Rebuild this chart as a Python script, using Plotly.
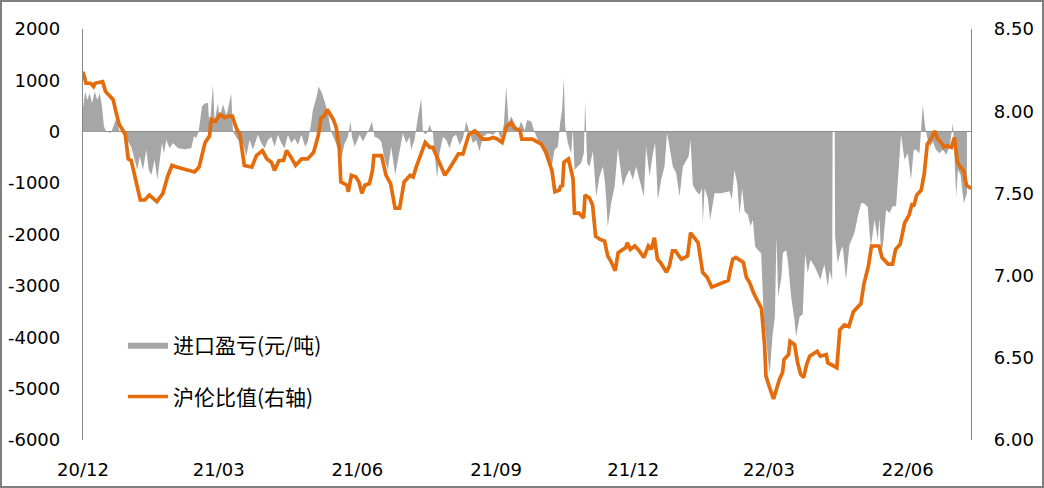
import pandas as pd
import plotly.graph_objects as go

# ---------------- data ----------------
start_date = "2020-12-01"

# Import profit/loss (yuan/ton): day offsets since start_date and values
profit_day = [0, 1.5, 2.9, 4.4, 6.0, 7.8, 9.5, 11.1, 12.6, 13.9, 15.4, 18.6, 22.1, 24.3, 27.7,
              29.8, 32.0, 34.3, 36.0, 37.6, 39.8, 42.0, 43.6, 45.3, 47.5, 49.3, 50.9, 52.4, 53.7,
              55.2, 57.5, 59.7, 63.0, 67.4, 71.8, 73.6, 75.1, 76.7, 78.9, 80.7, 82.9, 84.0, 85.1,
              86.2, 87.3, 89.5, 90.6, 92.8, 95.0, 96.1, 98.3, 99.5, 102.8, 106.1, 108.3, 110.5,
              112.7, 116.0, 118.2, 120.5, 122.7, 124.9, 127.1, 129.3, 131.5, 133.7, 135.9, 138.1,
              140.4, 142.6, 144.8, 147.4, 149.2, 151.0, 152.5, 154.7, 156.3, 158.5, 160.3, 162.5,
              164.6, 166.9, 169.1, 171.3, 173.5, 175.7, 177.5, 178.4, 180.2, 183.5, 185.7, 187.9,
              190.1, 191.6, 193.4, 195.6, 197.8, 200.1, 202.2, 204.4, 207.1, 208.9, 211.1, 212.2,
              214.4, 216.6, 217.7, 219.9, 221.7, 223.3, 224.3, 225.5, 227.6, 229.9, 232.1, 233.6,
              234.9, 236.5, 238.7, 240.9, 243.2, 245.3, 247.5, 249.8, 252.0, 254.2, 256.4, 258.6,
              260.8, 263.0, 265.2, 268.6, 271.9, 275.2, 277.4, 279.2, 280.7, 282.3, 284.0, 286.3,
              288.4, 290.6, 292.9, 294.6, 297.3, 299.5, 301.7, 305.0, 308.3, 310.5, 312.8, 315.0,
              316.5, 317.8, 318.9, 319.8, 321.6, 323.8, 324.9, 326.0, 328.2, 330.4, 332.2, 333.1,
              334.4, 336.0, 338.2, 340.4, 342.6, 344.8, 346.3, 348.1, 350.3, 352.6, 354.8, 356.5,
              358.1, 360.3, 362.5, 364.7, 366.9, 369.1, 372.0, 373.5, 375.8, 378.0, 379.5, 381.3,
              383.5, 385.7, 387.4, 389.0, 391.2, 393.4, 395.7, 397.9, 400.1, 401.7, 403.0, 404.5,
              406.7, 409.0, 410.5, 411.1, 412.3, 414.4, 416.0, 417.8, 418.9, 423.3, 428.8, 430.4,
              432.1, 433.9, 435.5, 437.2, 438.8, 441.0, 442.8, 444.3, 445.8, 447.6, 449.8, 451.6,
              453.1, 454.4, 455.5, 457.3, 458.9, 460.0, 461.1, 463.3, 464.2, 466.4, 467.5, 469.7,
              471.9, 473.0, 475.3, 477.4, 479.0, 480.7, 482.5, 485.2, 487.4, 489.2, 490.7, 491.8,
              494.0, 495.3, 496.9, 497.2, 498.6, 498.9, 500.6, 502.4, 503.9, 506.1, 508.4, 509.9,
              511.7, 513.9, 516.1, 517.9, 520.5, 521.7, 522.7, 525.0, 527.2, 528.3, 529.3, 530.5,
              532.7, 534.9, 537.1, 539.3, 541.6, 542.6, 544.9, 547.1, 549.2, 551.0, 552.6, 554.8,
              557.0, 558.5, 560.3, 562.1, 563.6, 565.8, 568.1, 570.3, 572.6, 574.8, 577.0, 578.1,
              579.2, 580.3, 582.1, 584.2, 586.3, 587.9]
profit_val = [460, 785, 620, 750, 560, 785, 620, 750, 490, 100, 0, -20, 265, 0, 0,
              -190, -290, -580, -740, -480, -740, -350, -740, -840, -545, -935, -545, -220, -420,
              -160, -320, -220, -320, -340, -320, -90, -120, 0, 490, 550, 560, 30, 490,
              915, 200, 560, 250, 540, 320, 430, 750, 0, -160, -220, -480, -160,
              -350, -60, -220, -320, -160, -100, -290, -60, -220, -320, -60, -220,
              -130, -260, -60, -290, -190, 100, 430, 650, 880, 750, 590, 365,
              0, -160, -320, -510, -230, -100, 200, -100, -290, -60, -190, -60,
              70, 200, -100, -120, -190, -545, -740, -290, -840, -545, -160, -30,
              -220, -100, -350, -160, 200, 490, 650, 0, -60, 130, -30, -545,
              -900, -420, -100, -160, -320, -100, -60, -260, -130, 200, 0, -220,
              -160, -380, -100, -30, -60, 30, -160, 160, 880, 160, 300, 160,
              30, 200, 30, 230, 200, 0, -160, -290, -545, -740, -350, -290,
              170, 430, 1045, 100, -220, -420, 70, -740, -675, -610, -420, 590,
              -610, -675, -380, -1260, -870, -675, -1000, -1845, -1390, -1065, -320, -675,
              -1065, -870, -740, -935, -675, -935, -1260, -290, -870, -420, -220, -1325,
              -935, -675, -30, -290, -675, -800, -1260, -675, -550, -480, -160, -1030,
              -1160, -1225, -1100, -1780, -1100, -1290, -1715, -1420, -1195, -1195, -1160, -1325,
              -740, -1000, -1615, -1100, -1550, -1615, -1840, -1715, -2235, -2300, -2365, -3660,
              -4000, -4450, -4700, -3990, -3600, -2040, -3210, -2820, -2360, -2300, -2500, -3210,
              -3660, -3990, -3600, -3550, -2365, -2750, -2490, -2620, -2750, -2880, -2680, -2590,
              -3010, -2700, -2900, 0, 0, -2040, -2560, -2330, -2230, -2880, -2200,
              -2100, -1970, -1650, -1390, -1390, -1460, -1970, -2230, -1715, -2100, -1680, -2365,
              -2230, -1520, -1580, -1450, -1450, -545, -60, -545, -420, -935, -350, -350,
              -420, 525, 100, -160, -290, -190, -350, -420, -350, -450, -290, 170,
              -545, -1260, -740, -840, -1390, -1195]

# SHFE/LME ratio (right axis): day offsets since start_date and values
ratio_day = [0, 2, 5, 7, 8, 13, 15, 20, 22, 24, 28, 30, 32, 35, 38, 41, 44, 49, 53, 56, 59, 62,
             74, 77, 81, 84, 85, 88, 91, 94, 97, 99, 102, 104, 107, 112, 115, 119, 122, 125, 127,
             130, 133, 135, 138, 141, 145, 149, 153, 156, 158, 160, 162, 166, 168, 170, 171, 175,
             176, 178, 181, 183, 185, 187, 190, 192, 193, 197, 198, 201, 204, 207, 210, 213, 217,
             219, 221, 227, 230, 232, 235, 240, 243, 249, 252, 256, 260, 265, 269, 272, 275, 278,
             281, 284, 286, 290, 291, 294, 298, 304, 307, 311, 313, 316, 317, 318, 319, 322, 324,
             325, 326, 329, 332, 333, 336, 338, 340, 343, 346, 348, 350, 353, 355, 357, 360, 361,
             363, 366, 369, 372, 375, 377, 379, 381, 383, 387, 389, 391, 393, 396, 397, 399, 401,
             403, 406, 408, 411, 414, 417, 428, 429, 431, 433, 438, 440, 442, 445, 448, 450, 452,
             453, 455, 458, 460, 462, 464, 465, 468, 469, 472, 474, 476, 478, 480, 482, 487, 489,
             493, 494, 500, 502, 505, 508, 511, 516, 518, 521, 523, 528, 530, 534, 537, 539, 542,
             545, 548, 550, 551, 553, 556, 558, 560, 563, 565, 567, 570, 571, 573, 576, 578, 580,
             582, 584, 586, 589]
ratio_val = [8.24, 8.17, 8.17, 8.15, 8.17, 8.18, 8.12, 8.07, 7.99, 7.92, 7.86, 7.71, 7.70, 7.58,
             7.46, 7.46, 7.49, 7.45, 7.50, 7.60, 7.67, 7.66, 7.63, 7.66, 7.81, 7.85, 7.95, 7.94,
             7.98, 7.96, 7.97, 7.97, 7.89, 7.86, 7.67, 7.66, 7.73, 7.76, 7.71, 7.69, 7.64, 7.70,
             7.70, 7.76, 7.72, 7.67, 7.71, 7.71, 7.75, 7.85, 7.96, 7.97, 8.01, 7.95, 7.90, 7.77,
             7.57, 7.55, 7.51, 7.61, 7.60, 7.57, 7.50, 7.55, 7.56, 7.64, 7.73, 7.73, 7.73, 7.61,
             7.56, 7.41, 7.41, 7.57, 7.61, 7.60, 7.66, 7.81, 7.78, 7.78, 7.72, 7.61, 7.65, 7.74,
             7.74, 7.86, 7.88, 7.83, 7.83, 7.84, 7.83, 7.81, 7.91, 7.93, 7.90, 7.88, 7.83, 7.83,
             7.83, 7.80, 7.75, 7.64, 7.51, 7.52, 7.55, 7.54, 7.69, 7.71, 7.64, 7.59, 7.38, 7.38,
             7.35, 7.49, 7.47, 7.43, 7.24, 7.22, 7.21, 7.12, 7.09, 7.03, 7.14, 7.15, 7.17, 7.20,
             7.16, 7.18, 7.15, 7.11, 7.18, 7.16, 7.23, 7.10, 7.08, 7.02, 7.06, 7.15, 7.15, 7.11,
             7.10, 7.11, 7.12, 7.26, 7.22, 7.20, 7.02, 6.99, 6.93, 6.97, 7.02, 7.10, 7.11, 7.08,
             6.99, 6.96, 6.89, 6.83, 6.80, 6.59, 6.39, 6.33, 6.25, 6.31, 6.37, 6.41, 6.49, 6.52,
             6.60, 6.58, 6.47, 6.40, 6.38, 6.46, 6.51, 6.54, 6.51, 6.52, 6.47, 6.44, 6.67, 6.70,
             6.69, 6.78, 6.83, 6.95, 7.06, 7.18, 7.18, 7.11, 7.07, 7.07, 7.16, 7.19, 7.32, 7.37,
             7.44, 7.42, 7.49, 7.52, 7.62, 7.80, 7.84, 7.88, 7.83, 7.80, 7.78, 7.79, 7.78, 7.84,
             7.69, 7.66, 7.64, 7.55, 7.53]

x_end_day = 589
tick_dates = ["2020-12-01", "2021-03-01", "2021-06-01", "2021-09-01", "2021-12-01",
              "2022-03-01", "2022-06-01"]
left_ticks = [2000, 1000, 0, -1000, -2000, -3000, -4000, -5000, -6000]
right_ticks = [6.0, 6.5, 7.0, 7.5, 8.0, 8.5]

name_profit = "进口盈亏(元/吨)"
name_ratio = "沪伦比值(右轴)"

# ---------------- figure ----------------
t0 = pd.Timestamp(start_date)
profit_x = t0 + pd.to_timedelta(profit_day, unit="D")
ratio_x = t0 + pd.to_timedelta(ratio_day, unit="D")
x_end = t0 + pd.Timedelta(days=x_end_day)

GRAY = "#A6A6A6"
ORANGE = "#E46C0A"
AXIS = "#868686"
NUMFONT = dict(family="DejaVu Sans", size=18, color="#000000")
CJKFONT = dict(family="Noto Sans CJK SC", size=21, color="#000000")

fig = go.Figure()
fig.add_trace(go.Scatter(
    x=profit_x, y=profit_val, name=name_profit, mode="lines",
    line=dict(width=0, color=GRAY), fill="tozeroy", fillcolor=GRAY,
    legend="legend", yaxis="y",
))
fig.add_trace(go.Scatter(
    x=ratio_x, y=ratio_val, name=name_ratio, mode="lines",
    line=dict(width=3.7, color=ORANGE), yaxis="y2", legend="legend2",
))

fig.update_layout(
    width=1044, height=488,
    margin=dict(l=83, r=73, t=29, b=48, autoexpand=False),
    paper_bgcolor="white", plot_bgcolor="white",
    font=NUMFONT,
    xaxis=dict(
        type="date", range=[t0, x_end], tickvals=pd.to_datetime(tick_dates),
        tickformat="%y/%m", showgrid=False, zeroline=False, showline=False,
        ticks="", tickfont=NUMFONT, ticklabelstandoff=17, automargin=False,
    ),
    yaxis=dict(
        range=[-6000, 2000], tickvals=left_ticks, ticktext=[str(v) for v in left_ticks],
        showgrid=False, zeroline=True, zerolinecolor=AXIS, zerolinewidth=1.3,
        showline=True, linecolor=AXIS, linewidth=1.3, ticks="",
        tickfont=NUMFONT, ticklabelstandoff=18, automargin=False,
    ),
    yaxis2=dict(
        range=[6.0, 8.5], tickvals=right_ticks, tickformat=".2f", overlaying="y",
        side="right", showgrid=False, zeroline=False, showline=True,
        linecolor=AXIS, linewidth=1.3, ticks="", tickfont=NUMFONT, ticklabelstandoff=18,
        automargin=False,
    ),
    legend=dict(x=0.045, y=0.231, xanchor="left", yanchor="middle",
                font=CJKFONT, bgcolor="rgba(0,0,0,0)", itemwidth=40),
    legend2=dict(x=0.045, y=0.105, xanchor="left", yanchor="middle",
                 font=CJKFONT, bgcolor="rgba(0,0,0,0)", itemwidth=40),
    showlegend=True,
    shapes=[dict(type="rect", xref="paper", yref="paper",
                 x0=-82 / 888, x1=(1043 - 83) / 888, y0=(440 - 487) / 411, y1=(440 - 1) / 411,
                 line=dict(color="#7F7F7F", width=2), fillcolor="rgba(0,0,0,0)", layer="above")],
)

fig.write_html("out.html", config={"displayModeBar": False},
               post_script="document.body.style.margin='0';")
